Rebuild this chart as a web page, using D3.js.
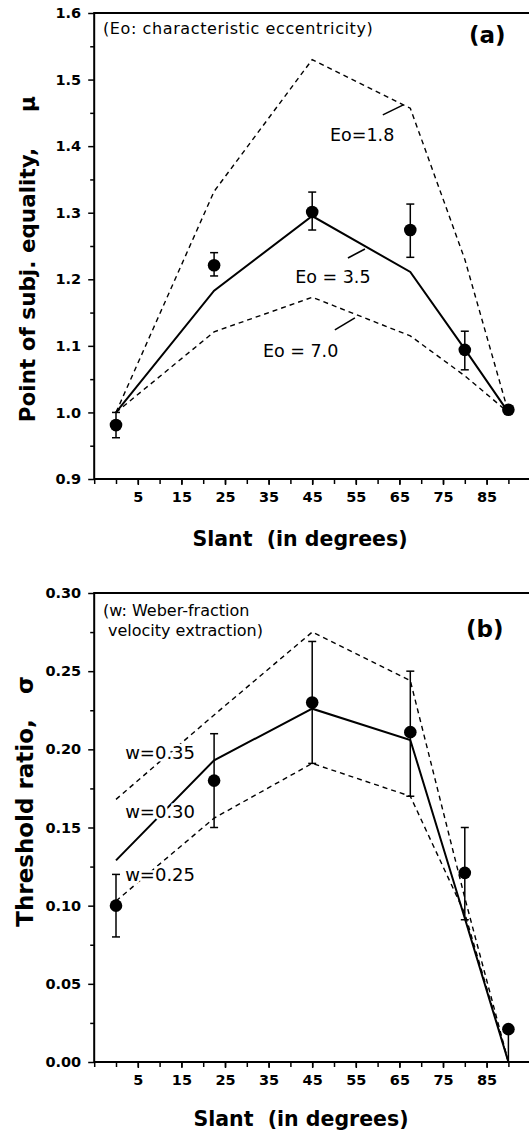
<!DOCTYPE html>
<html>
<head>
<meta charset="utf-8">
<script src="https://cdn.jsdelivr.net/npm/d3@7"></script>
<style>
  body { margin: 0; background: #fff; }
  svg { display: block; background: #fff; }
  text { font-family: "DejaVu Sans", sans-serif; fill: #000; }
  .tick text { font-family: "DejaVu Sans", sans-serif; font-weight: bold; font-size: 14.5px; }
</style>
</head>
<body>
<script>
// slant angles (degrees) of the measured conditions
var slant = [0, 22.5, 45, 67.5, 80, 90];

// (a) point of subjective equality
var muObs = [0.981, 1.221, 1.301, 1.274, 1.094, 1.004];
var muLo  = [0.962, 1.205, 1.274, 1.233, 1.064, 1.004];
var muHi  = [1.000, 1.240, 1.331, 1.313, 1.122, 1.004];
var eo18  = [1.0, 1.332, 1.530, 1.457, 1.230, 1.0];
var eo35  = [1.0, 1.183, 1.295, 1.211, 1.095, 1.0];
var eo70  = [1.0, 1.121, 1.173, 1.115, 1.055, 1.0];

// (b) threshold ratio
var sigObs = [0.100, 0.180, 0.230, 0.211, 0.121, 0.021];
var sigLo  = [0.080, 0.150, 0.191, 0.170, 0.091, 0.000];
var sigHi  = [0.120, 0.210, 0.269, 0.250, 0.150, 0.021];
var w35    = [0.168, 0.222, 0.275, 0.244, 0.105, 0.0];
var w30    = [0.129, 0.193, 0.226, 0.206, 0.092, 0.0];
var w25    = [0.103, 0.156, 0.191, 0.170, 0.095, 0.0];

// ticks
var xMinor = d3.range(-5, 96, 5);
var xMajor = [5, 15, 25, 35, 45, 55, 65, 75, 85];
var muTicks = [0.9, 1.0, 1.1, 1.2, 1.3, 1.4, 1.5, 1.6];
var muMinor = [0.95, 1.05, 1.15, 1.25, 1.35, 1.45, 1.55];
var sigTicks = [0.00, 0.05, 0.10, 0.15, 0.20, 0.25, 0.30];
var sigMinor = [0.025, 0.075, 0.125, 0.175, 0.225, 0.275];

var W = 529, H = 1131;

var svg = d3.select("body").append("svg")
    .attr("width", W)
    .attr("height", H);

var x = d3.scaleLinear()
    .domain([-5, 95])
    .range([94.2, 530.2]);

var yA = d3.scaleLinear().domain([0.9, 1.6]).range([479, 13]);
var yB = d3.scaleLinear().domain([0, 0.30]).range([1062, 593]);

function drawAxes(y, yTicks, yMinor, fmt) {
    var top = y.range()[1], bottom = y.range()[0];
    var g = svg.append("g");

    //x-axis
    var xAxis = g.append("g")
        .attr("transform", "translate(0," + bottom + ")")
        .call(d3.axisBottom(x).tickValues(xMinor).tickSize(5).tickSizeOuter(0).tickFormat(""));
    xAxis.select(".domain").remove();
    xAxis.selectAll(".tick line").attr("stroke-width", 1.5);

    var xLab = g.append("g")
        .attr("transform", "translate(0," + bottom + ")")
        .call(d3.axisBottom(x).tickValues(xMajor).tickSize(6).tickPadding(7).tickSizeOuter(0));
    xLab.select(".domain").remove();
    xLab.selectAll(".tick line").attr("stroke-width", 1.5);

    //y-axis
    var yMin = g.append("g")
        .attr("transform", "translate(" + x(-5) + ",0)")
        .call(d3.axisLeft(y).tickValues(yMinor).tickSize(4).tickSizeOuter(0).tickFormat(""));
    yMin.select(".domain").remove();
    yMin.selectAll(".tick line").attr("stroke-width", 1.5);

    var yAx = g.append("g")
        .attr("transform", "translate(" + x(-5) + ",0)")
        .call(d3.axisLeft(y).tickValues(yTicks).tickSize(6).tickPadding(7).tickSizeOuter(0).tickFormat(d3.format(fmt)));
    yAx.select(".domain").remove();
    yAx.selectAll(".tick line").attr("stroke-width", 1.5);

    // frame: left, bottom, top
    g.append("path")
        .attr("d", "M" + W + "," + top + "H" + x(-5) + "V" + bottom + "H" + W)
        .attr("fill", "none")
        .attr("stroke", "#000")
        .attr("stroke-width", 2);
}

function drawLine(y, vals, dashed) {
    var line = d3.line()
        .x(function (d, i) { return x(slant[i]); })
        .y(function (d) { return y(d); });
    svg.append("path")
        .datum(vals)
        .attr("d", line)
        .attr("fill", "none")
        .attr("stroke", "#000")
        .attr("stroke-width", dashed ? 1.4 : 2)
        .attr("stroke-dasharray", dashed ? "5,4" : null);
}

function drawPoints(y, obs, lo, hi) {
    var g = svg.append("g");
    var idx = d3.range(obs.length);
    g.selectAll("line.err")
        .data(idx.filter(function (i) { return hi[i] > lo[i]; }))
        .enter().append("line")
        .attr("x1", function (i) { return x(slant[i]); })
        .attr("x2", function (i) { return x(slant[i]); })
        .attr("y1", function (i) { return y(lo[i]); })
        .attr("y2", function (i) { return y(hi[i]); })
        .attr("stroke", "#000")
        .attr("stroke-width", 1.5);
    var caps = [];
    idx.forEach(function (i) {
        if (hi[i] > obs[i]) caps.push([i, hi[i]]);
        if (lo[i] < obs[i] && lo[i] > y.domain()[0]) caps.push([i, lo[i]]);
    });
    g.selectAll("line.cap")
        .data(caps)
        .enter().append("line")
        .attr("x1", function (d) { return x(slant[d[0]]) - 4; })
        .attr("x2", function (d) { return x(slant[d[0]]) + 4; })
        .attr("y1", function (d) { return y(d[1]); })
        .attr("y2", function (d) { return y(d[1]); })
        .attr("stroke", "#000")
        .attr("stroke-width", 1.5);
    g.selectAll("circle")
        .data(idx)
        .enter().append("circle")
        .attr("cx", function (i) { return x(slant[i]); })
        .attr("cy", function (i) { return y(obs[i]); })
        .attr("r", 6.3)
        .attr("fill", "#000");
}

function label(px, py, txt, size, weight, halo) {
    var t = svg.append("text")
        .attr("x", px)
        .attr("y", py)
        .style("font-size", size + "px")
        .style("font-weight", weight || "normal")
        .style("white-space", "pre")
        .text(txt);
    if (halo) {
        t.attr("stroke", "#fff").attr("stroke-width", 5)
            .attr("paint-order", "stroke");
    }
    return t;
}

function vlabel(px, py, txt, size) {
    svg.append("text")
        .attr("transform", "translate(" + px + "," + py + ") rotate(-90)")
        .attr("text-anchor", "middle")
        .style("font-size", size + "px")
        .style("font-weight", "bold")
        .style("white-space", "pre")
        .text(txt);
}

function leader(y, a, b) {
    svg.append("line")
        .attr("x1", x(a[0])).attr("y1", y(a[1]))
        .attr("x2", x(b[0])).attr("y2", y(b[1]))
        .attr("stroke", "#000")
        .attr("stroke-width", 1.6);
}

// ---------- panel (a)
drawAxes(yA, muTicks, muMinor, ".1f");
drawLine(yA, eo18, true);
drawLine(yA, eo70, true);
drawLine(yA, eo35, false);
drawPoints(yA, muObs, muLo, muHi);

label(103, 34, "(Eo: characteristic eccentricity)", 16)
    .style("letter-spacing", "0.6px");
label(469, 43, "(a)", 23, "bold");
label(x(49.1), yA(1.408), "Eo=1.8", 17.5);
leader(yA, [61.2, 1.447], [65.9, 1.462]);
label(x(41.1), yA(1.194), "Eo = 3.5", 17.5);
leader(yA, [53.2, 1.232], [57.1, 1.2455]);
label(x(33.7), yA(1.083), "Eo = 7.0", 17.5);
leader(yA, [50.2, 1.124], [54.8, 1.142]);

vlabel(35, 285, "Point of subj. equality,", 21.5);
vlabel(35, 104, "\u03bc", 21.5);
svg.append("text")
    .attr("x", 300).attr("y", 546)
    .attr("text-anchor", "middle")
    .style("font-size", "20.5px").style("font-weight", "bold").style("white-space", "pre")
    .text("Slant  (in degrees)");

// ---------- panel (b)
drawAxes(yB, sigTicks, sigMinor, ".2f");
drawLine(yB, w35, true);
drawLine(yB, w25, true);
drawLine(yB, w30, false);

label(x(2.1), yB(0.194), "w=0.35", 18, "normal", true);
label(x(2.1), yB(0.156), "w=0.30", 18, "normal", true);
label(x(2.1), yB(0.1157), "w=0.25", 18, "normal", true);

drawPoints(yB, sigObs, sigLo, sigHi);

label(103, 616, "(w: Weber-fraction", 16);
label(108, 636, "velocity extraction)", 16);
label(466, 637, "(b)", 23, "bold");

vlabel(33, 823, "Threshold ratio,", 23);
vlabel(33, 685, "\u03c3", 23);
svg.append("text")
    .attr("x", 301).attr("y", 1126)
    .attr("text-anchor", "middle")
    .style("font-size", "20.5px").style("font-weight", "bold").style("white-space", "pre")
    .text("Slant  (in degrees)");
</script>
</body>
</html>
